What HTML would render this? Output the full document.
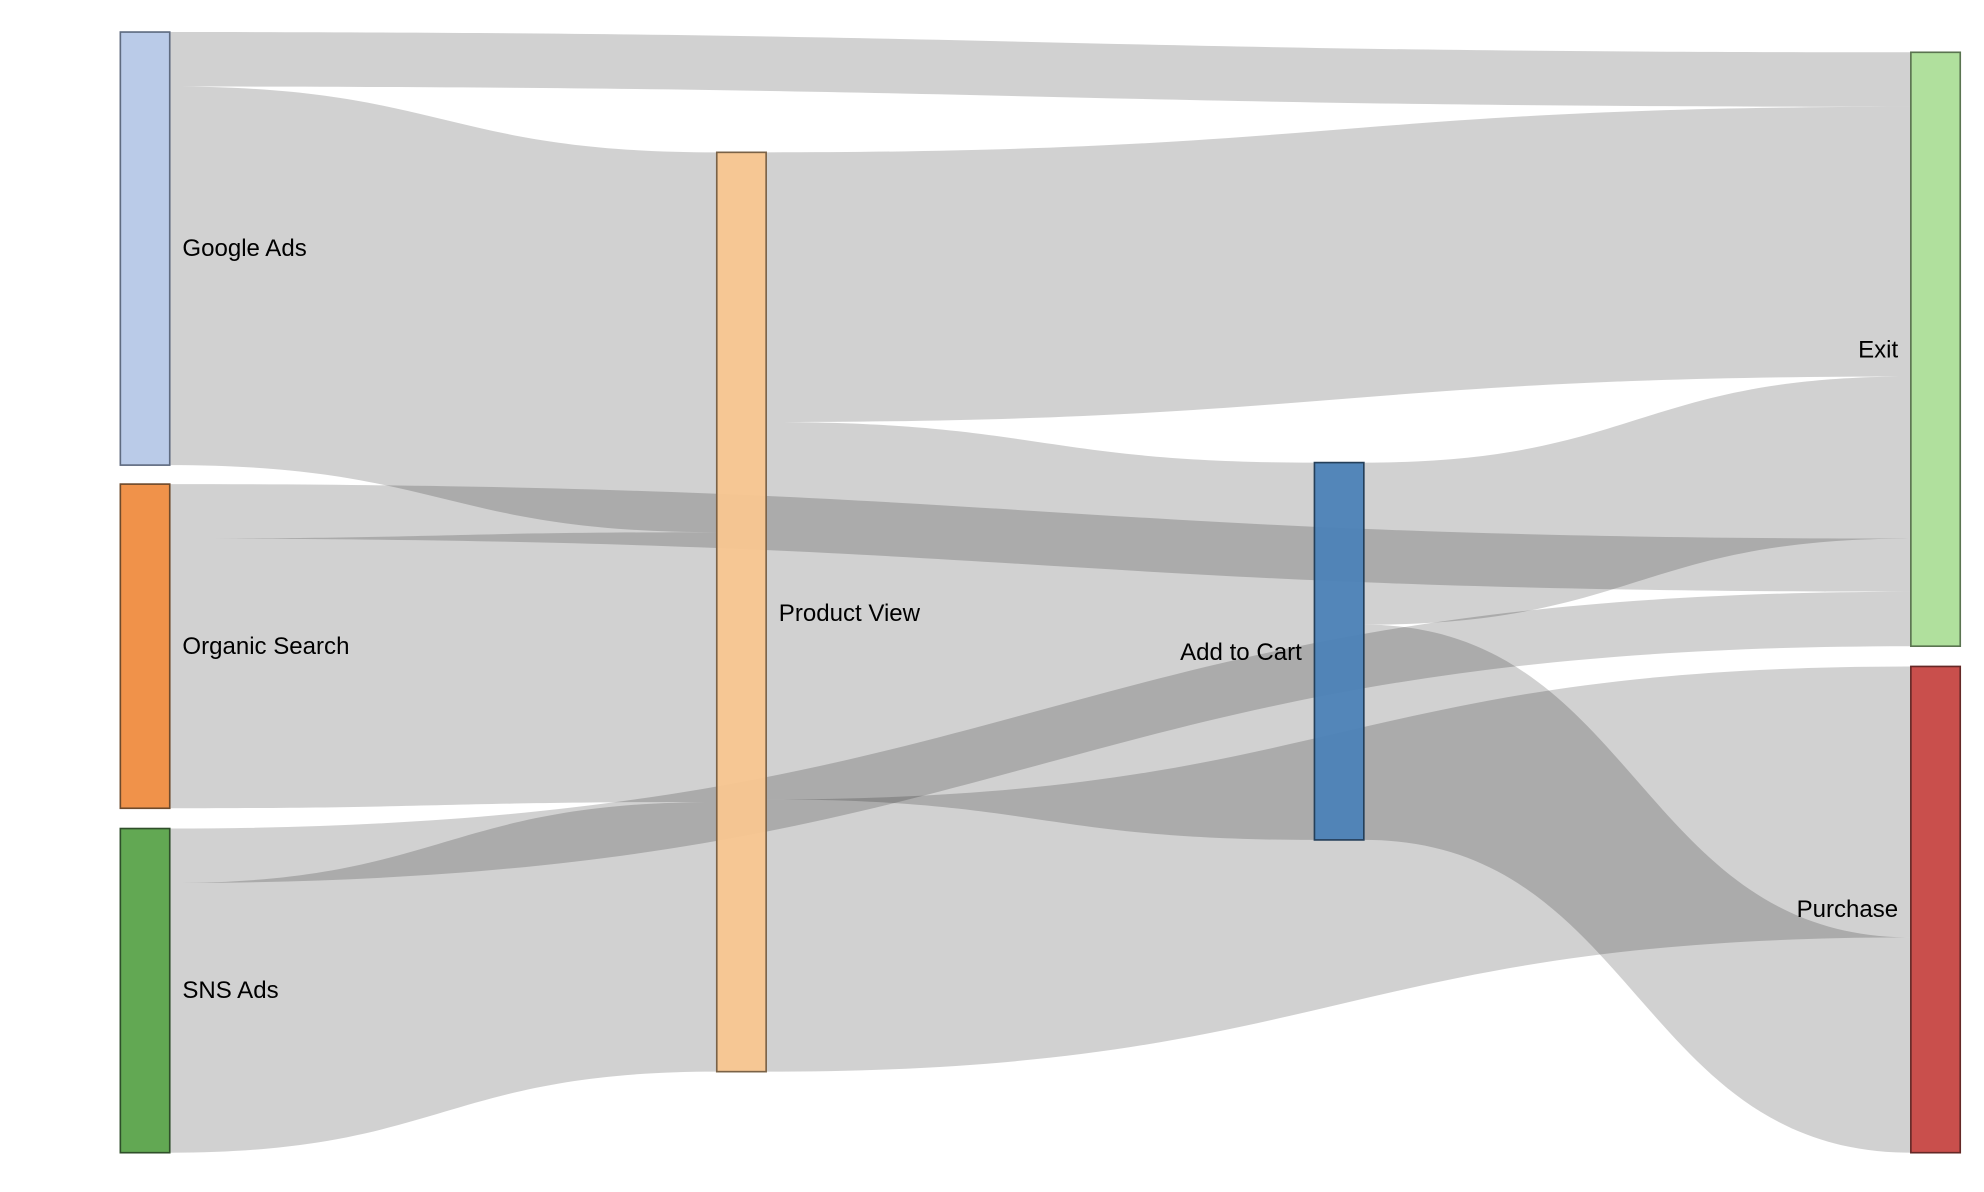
<!DOCTYPE html>
<html><head><meta charset="utf-8"><style>
html,body{margin:0;padding:0;background:#fff;}
svg{display:block;}
text{font-family:"Liberation Sans",Arial,sans-serif;font-size:19px;fill:#000;}
</style></head><body>
<svg width="1984" height="1192" viewBox="0 0 1560 937.3" xmlns="http://www.w3.org/2000/svg">
<g transform="translate(94.6 25.2) scale(0.9957) translate(-96 -25)">
<g fill="#000" fill-opacity="0.18">
<path d="M135 25 C822.5 25 822.5 41 1510 41 L1510 84 C822.5 84 822.5 68 135 68 Z"/>
<path d="M135 68 C351 68 351 120 567 120 L567 420 C351 420 351 367 135 367 Z"/>
<path d="M135 382 C822.5 382 822.5 425 1510 425 L1510 467 C822.5 467 822.5 425 135 425 Z"/>
<path d="M135 425 C351 425 351 420 567 420 L567 633 C351 633 351 638 135 638 Z"/>
<path d="M135 654 C822.5 654 822.5 467 1510 467 L1510 510 C822.5 510 822.5 697 135 697 Z"/>
<path d="M135 697 C351 697 351 633 567 633 L567 846 C351 846 351 910 135 910 Z"/>
<path d="M606 120 C1058 120 1058 84 1510 84 L1510 297 C1058 297 1058 333 606 333 Z"/>
<path d="M606 333 C822.5 333 822.5 365 1039 365 L1039 663 C822.5 663 822.5 631 606 631 Z"/>
<path d="M606 631 C1058 631 1058 526 1510 526 L1510 740 C1058 740 1058 846 606 846 Z"/>
<path d="M1078 365 C1294 365 1294 297 1510 297 L1510 425 C1294 425 1294 493 1078 493 Z"/>
<path d="M1078 493 C1294 493 1294 740 1510 740 L1510 910 C1294 910 1294 663 1078 663 Z"/>
</g>
<g stroke-width="1.3">
<rect x="96" y="25" width="39" height="342" fill="#bacbe8" stroke="#5f6b80"/>
<rect x="96" y="382" width="39" height="256" fill="#f0924a" stroke="#6e4a2c"/>
<rect x="96" y="654" width="39" height="256" fill="#62a853" stroke="#2f4f2a"/>
<rect x="567" y="120" width="39" height="726" fill="#f5c48e" fill-opacity="0.95" stroke="#7a6247"/>
<rect x="1039" y="365" width="39" height="298" fill="#4a7fb5" fill-opacity="0.95" stroke="#25405a"/>
<rect x="1510" y="41" width="39" height="469" fill="#b0e09d" stroke="#5a7450"/>
<rect x="1510" y="526" width="39" height="384" fill="#c94f4c" stroke="#652826"/>
</g>
<text x="145" y="202">Google Ads</text>
<text x="145" y="516">Organic Search</text>
<text x="145" y="788">SNS Ads</text>
<text x="616" y="490">Product View</text>
<text x="1029" y="521" text-anchor="end">Add to Cart</text>
<text x="1500" y="282" text-anchor="end">Exit</text>
<text x="1500" y="724" text-anchor="end">Purchase</text>
</g>
</svg>
</body></html>
